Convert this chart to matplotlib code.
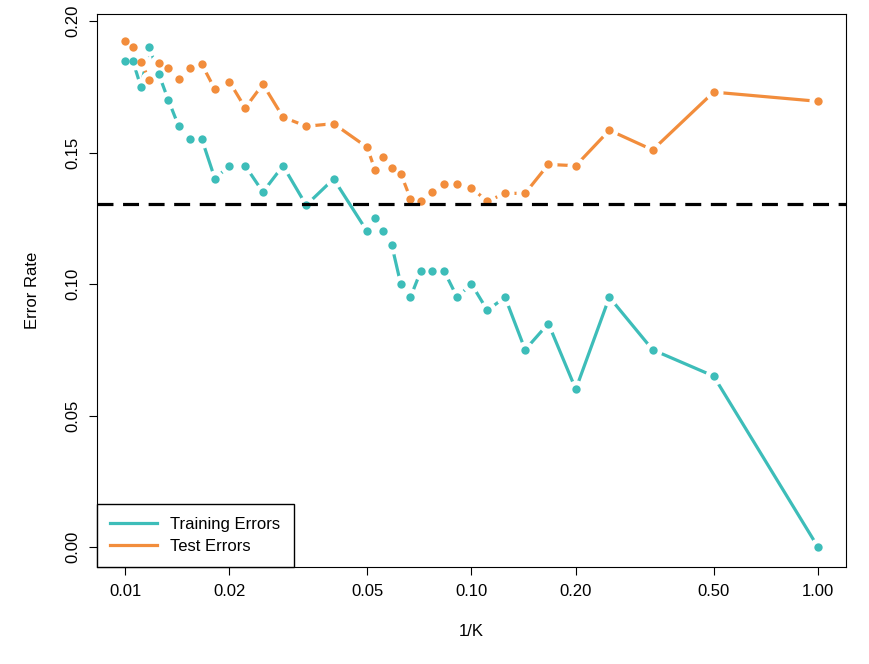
import matplotlib
matplotlib.use("Agg")
import matplotlib.pyplot as plt
import numpy as np
from matplotlib.lines import Line2D

plt.rcParams["font.family"] = "Liberation Sans"

K = [100,95,90,85,80,75,70,65,60,55,50,45,40,35,30,25,20,19,18,17,16,15,14,13,12,11,10,9,8,7,6,5,4,3,2,1]
train = [0.185,0.185,0.175,0.19,0.18,0.17,0.16,0.155,0.155,0.14,0.145,0.145,0.135,0.145,0.13,0.14,
         0.12,0.125,0.12,0.115,0.10,0.095,0.105,0.105,0.105,0.095,0.10,0.09,0.095,0.075,0.085,0.06,0.095,0.075,0.065,0.0]
test = [0.1925,0.19,0.1845,0.1775,0.184,0.182,0.178,0.182,0.1835,0.174,0.177,0.167,0.176,0.1635,0.16,0.161,
        0.152,0.1435,0.1485,0.144,0.142,0.1325,0.1315,0.135,0.138,0.138,0.1365,0.1315,0.1345,0.1345,0.1455,0.145,0.1585,0.151,0.173,0.1695]
bayes = 0.1305
xticks = [0.01,0.02,0.05,0.10,0.20,0.50,1.00]
yticks = [0.00,0.05,0.10,0.15,0.20]

teal = "#3DBDB9"
orange = "#F28D3C"
x = 1/np.array(K)

fig = plt.figure(figsize=(8.7,6.64), dpi=100)
ax = fig.add_axes([97/870, 1-567/664, (846-97)/870, (567-14)/664])
for ys, c in [(train, teal), (test, orange)]:
    ax.plot(x, ys, color=c, lw=2.3, zorder=2)
    ax.plot(x, ys, ls="none", marker="o", markersize=13, markerfacecolor="white", markeredgewidth=0, zorder=3)
    ax.plot(x, ys, ls="none", marker="o", markersize=6, color=c, markeredgewidth=0, zorder=4)
ax.axhline(bayes, color="black", lw=2.3, ls=(0,(5,3)), zorder=5)
ax.set_xscale("log")
ax.set_xlim(0.0083, 1.205)
ax.set_ylim(-0.0076, 0.2027)
ax.set_xticks(xticks)
ax.set_xticklabels([f"{t:.2f}" for t in xticks])
ax.minorticks_off()
ax.set_yticks(yticks)
ax.set_yticklabels([f"{t:.2f}" for t in yticks], rotation=90, va="center")
ax.tick_params(labelsize=12, length=6, pad=6)
ax.set_xlabel("1/K", fontsize=12, labelpad=18)
ax.set_ylabel("Error Rate", fontsize=12, labelpad=18)
h = [Line2D([],[],color=teal,lw=2.3), Line2D([],[],color=orange,lw=2.3)]
leg = ax.legend(h, ["Training Errors","Test Errors"], loc="lower left", fontsize=12, fancybox=False,
          edgecolor="black", framealpha=1, borderaxespad=0, handlelength=2.8, borderpad=0.8, labelspacing=0.4)
leg.set_zorder(10)
fig.savefig("out.png", dpi=100)
